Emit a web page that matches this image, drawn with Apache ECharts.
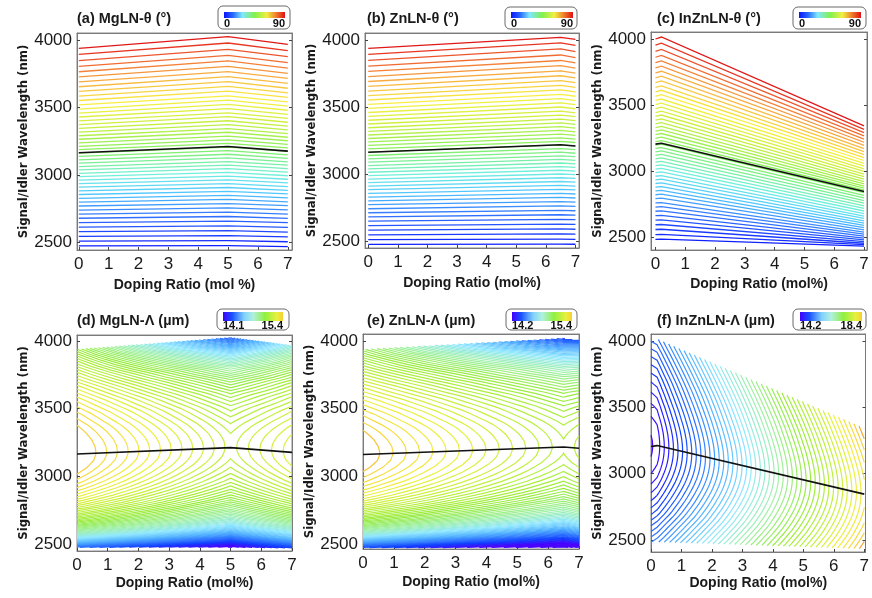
<!DOCTYPE html>
<html>
<head>
<meta charset="utf-8">
<script src="https://cdn.jsdelivr.net/npm/echarts@6/dist/echarts.min.js"></script>
<style>
html, body { margin: 0; padding: 0; background: #fff; }
#chart { width: 872px; height: 598px; }
</style>
</head>
<body>
<div id="chart"></div>
<script>
// doping ratios (mol%) where the curves bend
var mgKnots = [0, 5, 7];
var znKnots = [0, 6.5, 7];
var inKnots = [0, 0.2, 7];

// degenerate wavelength (black line), nm, at the knots
var mgDegen = [3165, 3212, 3177];
var znDegen = [3162, 3218, 3209];
var inDegen = [3205, 3212, 2846];

// signal/idler wavelength of every theta line, from 0 deg (bottom) to 90 deg (top)
var lnLam0 = [2475, 2510, 2546, 2581, 2615, 2648, 2680, 2711, 2741, 2771, 2800, 2828, 2856, 2883, 2910, 2936, 2962, 2988, 3013, 3038, 3063, 3088, 3113, 3138, 3163, 3188, 3213, 3239, 3265, 3291, 3318, 3345, 3373, 3401, 3430, 3459, 3489, 3520, 3552, 3585, 3619, 3654, 3690, 3727, 3765, 3805, 3848, 3893, 3938];
var mgLam5 = [2477, 2514, 2552, 2588, 2624, 2659, 2693, 2725, 2757, 2789, 2820, 2849, 2879, 2908, 2937, 2965, 2992, 3020, 3047, 3074, 3100, 3127, 3154, 3181, 3207, 3234, 3261, 3289, 3317, 3344, 3373, 3402, 3432, 3461, 3492, 3523, 3555, 3587, 3621, 3656, 3692, 3729, 3766, 3805, 3845, 3887, 3931, 3978, 4025];
var mgLam7 = [2470, 2506, 2542, 2578, 2613, 2647, 2679, 2711, 2742, 2773, 2802, 2831, 2860, 2887, 2915, 2942, 2969, 2995, 3021, 3047, 3073, 3098, 3124, 3150, 3176, 3201, 3227, 3254, 3280, 3307, 3335, 3363, 3391, 3420, 3450, 3480, 3510, 3542, 3575, 3608, 3643, 3679, 3716, 3753, 3792, 3833, 3877, 3922, 3968];
var znLam65 = [2477, 2514, 2553, 2590, 2626, 2662, 2696, 2729, 2762, 2794, 2825, 2855, 2886, 2915, 2944, 2972, 3000, 3028, 3055, 3082, 3109, 3136, 3163, 3190, 3217, 3244, 3270, 3298, 3326, 3353, 3382, 3410, 3440, 3469, 3500, 3530, 3562, 3594, 3627, 3661, 3697, 3733, 3770, 3808, 3847, 3888, 3933, 3979, 4020];
var znLam7 = [2476, 2513, 2551, 2588, 2624, 2659, 2693, 2726, 2758, 2790, 2821, 2851, 2881, 2910, 2939, 2967, 2995, 3022, 3049, 3076, 3102, 3129, 3155, 3182, 3208, 3235, 3261, 3288, 3315, 3342, 3370, 3398, 3428, 3456, 3487, 3517, 3548, 3580, 3612, 3646, 3681, 3717, 3753, 3790, 3829, 3869, 3913, 3959, 4005];
var inLam0 = [2485, 2521, 2559, 2595, 2630, 2664, 2697, 2729, 2760, 2792, 2822, 2851, 2880, 2907, 2935, 2962, 2989, 3016, 3042, 3068, 3094, 3120, 3146, 3172, 3197, 3223, 3249, 3276, 3303, 3330, 3358, 3386, 3415, 3444, 3474, 3504, 3535, 3567, 3600, 3634, 3670, 3706, 3743, 3781, 3821, 3862, 3907, 3953, 4000];
var inLam02 = [2486, 2522, 2561, 2597, 2632, 2666, 2700, 2732, 2763, 2796, 2826, 2855, 2884, 2912, 2940, 2967, 2995, 3022, 3048, 3074, 3101, 3127, 3153, 3179, 3205, 3231, 3257, 3285, 3312, 3339, 3368, 3396, 3425, 3454, 3485, 3515, 3546, 3579, 3612, 3646, 3683, 3719, 3756, 3794, 3835, 3876, 3921, 3968, 4015];
var inLam7 = [2434, 2444, 2455, 2467, 2480, 2494, 2509, 2524, 2540, 2556, 2573, 2590, 2607, 2625, 2643, 2661, 2680, 2699, 2718, 2738, 2758, 2778, 2798, 2818, 2838, 2856, 2872, 2888, 2905, 2922, 2940, 2959, 2978, 2998, 3018, 3039, 3060, 3081, 3103, 3125, 3148, 3171, 3195, 3219, 3243, 3267, 3292, 3317, 3343];

// poling period on the black line at the knots (um)
var mgPeak = [15.40, 15.143, 15.238];
var znPeak = [15.40, 15.128, 15.15];
var inPeak = [14.2, 14.25, 18.1];

// change of poling period (um) with the distance from the black line (nm)
var lamOffsets = [-780, -740, -700, -660, -620, -580, -540, -500, -450, -400, -350, -300, -250, -200, -150, -100, -50, 0, 50, 100, 150, 200, 300, 400, 500, 600, 700, 840];
var lnDrop0 = [-1.45, -1.24, -1.08, -0.9, -0.74, -0.6, -0.49, -0.4, -0.31, -0.235, -0.172, -0.124, -0.086, -0.055, -0.032, -0.0145, -0.0036, 0, -0.0018, -0.0072, -0.016, -0.028, -0.063, -0.11, -0.17, -0.245, -0.33, -0.48];
var mgDrop5 = [-1.3, -1.08, -0.9, -0.75, -0.62, -0.51, -0.42, -0.345, -0.27, -0.205, -0.152, -0.11, -0.076, -0.049, -0.028, -0.0125, -0.003, 0, -0.002, -0.008, -0.019, -0.034, -0.075, -0.135, -0.22, -0.34, -0.52, -0.88];
var mgDrop7 = [-1.4, -1.15, -0.95, -0.79, -0.65, -0.54, -0.44, -0.36, -0.28, -0.215, -0.16, -0.115, -0.08, -0.051, -0.029, -0.013, -0.0032, 0, -0.0018, -0.0075, -0.017, -0.03, -0.066, -0.115, -0.18, -0.27, -0.39, -0.62];
var znDropEnd = [-1.25, -1.04, -0.87, -0.73, -0.61, -0.5, -0.41, -0.335, -0.262, -0.2, -0.148, -0.106, -0.073, -0.047, -0.027, -0.012, -0.003, 0, -0.002, -0.008, -0.018, -0.032, -0.072, -0.13, -0.215, -0.33, -0.5, -0.86];
var inRise = [1.08, 0.99, 0.9, 0.82, 0.74, 0.66, 0.58, 0.5, 0.42, 0.34, 0.27, 0.205, 0.145, 0.095, 0.054, 0.024, 0.006, 0, 0.005, 0.02, 0.045, 0.078, 0.16, 0.26, 0.37, 0.5, 0.64, 0.85];

// contour levels: first level and spacing (um)
var mgLevelStart = 15.368, mgLevelStep = -0.018;
var znLevelStart = 15.377, znLevelStep = -0.018;
var inLevelStart = 14.215, inLevelStep = 0.085;

// tick labels
var dopingTicks = [0, 1, 2, 3, 4, 5, 6, 7];
var lamTicks = [2500, 3000, 3500, 4000];

var thetaStops = [[0, '#1020ff'], [0.12, '#2f6cff'], [0.25, '#50c8ff'], [0.35, '#70f0e0'], [0.5, '#80f060'], [0.65, '#c8f040'], [0.77, '#f8f040'], [0.87, '#f8b040'], [0.95, '#f06030'], [1, '#e01818']];
var thetaBar = [[0, '#0a14ff'], [0.15, '#2a6cff'], [0.3, '#80e8ff'], [0.5, '#80f050'], [0.7, '#f0f040'], [0.85, '#f08030'], [1, '#e01010']];
var lamStops = [[0, '#4a00ff'], [0.12, '#1040ff'], [0.3, '#50b0ff'], [0.42, '#90e8ff'], [0.55, '#a0f0a8'], [0.68, '#98ec40'], [0.8, '#c0f040'], [0.9, '#eef040'], [0.97, '#f8d840'], [1, '#f0a030']];
var lamBar = [[0, '#4000ff'], [0.15, '#1850ff'], [0.35, '#80d0ff'], [0.5, '#b0f0e0'], [0.7, '#90f040'], [0.9, '#e8f040'], [1, '#f8d030']];

var LABEL_FONT = 'Liberation Sans';

function hexRgb(h) {
    return [parseInt(h.substr(1, 2), 16), parseInt(h.substr(3, 2), 16), parseInt(h.substr(5, 2), 16)];
}

function colorAt(stops, f) {
    f = Math.max(0, Math.min(1, f));
    for (var k = 1; k < stops.length; k++) {
        if (f <= stops[k][0]) {
            var t = (f - stops[k - 1][0]) / (stops[k][0] - stops[k - 1][0]);
            var a = hexRgb(stops[k - 1][1]), b = hexRgb(stops[k][1]);
            return 'rgb(' + [0, 1, 2].map(function (c) { return Math.round(a[c] + t * (b[c] - a[c])); }).join(',') + ')';
        }
    }
    return stops[stops.length - 1][1];
}

function interp(xs, ys, x) {
    if (x <= xs[0]) return ys[0];
    for (var k = 1; k < xs.length; k++) {
        if (x <= xs[k]) {
            var t = (x - xs[k - 1]) / (xs[k] - xs[k - 1]);
            return ys[k - 1] + t * (ys[k] - ys[k - 1]);
        }
    }
    return ys[ys.length - 1];
}

function levelList(start, step, stop) {
    var out = [];
    for (var v = start; step > 0 ? v <= stop : v >= stop; v += step) out.push(v);
    return out;
}

// theta lines of the top row
function thetaLines(knots, rows) {
    var n = rows[0].length, data = [];
    for (var i = 0; i < n; i++) {
        data.push({
            coords: knots.map(function (x, j) { return [x, rows[j][i]]; }),
            lineStyle: {color: colorAt(thetaStops, i / (n - 1))}
        });
    }
    return data;
}

// iso-period lines of the bottom row, traced on the grid spanned by the theta lines
function contourLines(knots, rows, degen, peak, profiles, levels, lo, hi) {
    var nK = knots.length, nR = rows[0].length, V = [], out = [];
    for (var j = 0; j < nK; j++) {
        V.push(rows[j].map(function (lam) { return peak[j] + interp(lamOffsets, profiles[j], lam - degen[j]); }));
    }
    levels.forEach(function (lev) {
        var pts = {}, adj = {};
        function cross(key, ax, ay, va, bx, by, vb) {
            if ((va - lev) * (vb - lev) >= 0) return null;
            if (!pts[key]) {
                var t = (lev - va) / (vb - va);
                pts[key] = [ax + t * (bx - ax), ay + t * (by - ay)];
            }
            return key;
        }
        function link(a, b) {
            (adj[a] = adj[a] || []).push(b);
            (adj[b] = adj[b] || []).push(a);
        }
        for (var j = 0; j < nK - 1; j++) {
            var x0 = knots[j], x1 = knots[j + 1];
            for (var i = 0; i < nR - 1; i++) {
                var v00 = V[j][i], v10 = V[j + 1][i], v11 = V[j + 1][i + 1], v01 = V[j][i + 1];
                var eb = cross('h' + j + '_' + i, x0, rows[j][i], v00, x1, rows[j + 1][i], v10);
                var er = cross('v' + (j + 1) + '_' + i, x1, rows[j + 1][i], v10, x1, rows[j + 1][i + 1], v11);
                var et = cross('h' + j + '_' + (i + 1), x0, rows[j][i + 1], v01, x1, rows[j + 1][i + 1], v11);
                var el = cross('v' + j + '_' + i, x0, rows[j][i], v00, x0, rows[j][i + 1], v01);
                var e = [eb, er, et, el].filter(Boolean);
                if (e.length === 2) {
                    link(e[0], e[1]);
                } else if (e.length === 4) {
                    var c = (v00 + v10 + v11 + v01) / 4;
                    if ((c - lev) * (v00 - lev) > 0) { link(eb, er); link(et, el); }
                    else { link(eb, el); link(er, et); }
                }
            }
        }
        var used = {};
        function walk(start) {
            var line = [start], cur = start;
            used[start] = true;
            while (true) {
                var nb = (adj[cur] || []).filter(function (k) { return !used[k]; });
                if (!nb.length) break;
                cur = nb[0];
                used[cur] = true;
                line.push(cur);
            }
            return line;
        }
        var keys = Object.keys(adj);
        var starts = keys.filter(function (k) { return adj[k].length === 1; }).concat(keys);
        var color = colorAt(lamStops, (lev - lo) / (hi - lo));
        starts.forEach(function (k) {
            if (used[k]) return;
            var line = walk(k);
            if (line.length < 2) return;
            out.push({coords: line.map(function (q) { return pts[q]; }), lineStyle: {color: color}});
        });
    });
    return out;
}

var panels = [
    {grid: {left: 77, top: 33, width: 215, height: 217}, xr: [-0.06, 7.14], yr: [2445, 4052], xName: 'Doping Ratio (mol %)', xGap: 28,
     title: '(a) MgLN-θ (°)', tx: 77, ty: 19, bar: [218, 6, 72, 23, 224, 12, 61, 6, 24], barStops: thetaBar, barLo: '0', barHi: '90'},
    {grid: {left: 365, top: 33, width: 214, height: 215}, xr: [-0.11, 7.12], yr: [2448, 4052], xName: 'Doping Ratio (mol%)', xGap: 28,
     title: '(b) ZnLN-θ (°)', tx: 367, ty: 19, bar: [505, 7, 72, 22, 511, 12, 62, 6, 24], barStops: thetaBar, barLo: '0', barHi: '90'},
    {grid: {left: 651, top: 32, width: 216, height: 218}, xr: [-0.15, 7.1], yr: [2404, 4053], xName: 'Doping Ratio (mol%)', xGap: 27,
     title: '(c) InZnLN-θ (°)', tx: 657, ty: 19, bar: [793, 7, 73, 22, 799, 12, 62, 6, 24], barStops: thetaBar, barLo: '0', barHi: '90'},
    {grid: {left: 77, top: 335, width: 215, height: 216}, xr: [0, 7], yr: [2448, 4044], xName: 'Doping Ratio (mol%)', xGap: 25,
     title: '(d) MgLN-Λ (µm)', tx: 77, ty: 321, bar: [217, 309, 72, 21, 223, 312, 60, 9, 326], barStops: lamBar, barLo: '14.1', barHi: '15.4'},
    {grid: {left: 363, top: 334, width: 216, height: 215}, xr: [0, 7], yr: [2465, 4052], xName: 'Doping Ratio (mol%)', xGap: 26,
     title: '(e) ZnLN-Λ (µm)', tx: 367, ty: 321, bar: [506, 309, 71, 21, 512, 312, 60, 9, 326], barStops: lamBar, barLo: '14.2', barHi: '15.4'},
    {grid: {left: 651, top: 334, width: 217, height: 218}, xr: [0, 7.04], yr: [2410, 4053], xName: 'Doping Ratio (mol%)', xGap: 24,
     title: '(f) InZnLN-Λ (µm)', tx: 657, ty: 321, bar: [793, 309, 73, 21, 800, 312, 62, 9, 326], barStops: lamBar, barLo: '14.2', barHi: '18.4'}
];

var panelData = [
    thetaLines(mgKnots, [lnLam0, mgLam5, mgLam7]),
    thetaLines(znKnots, [lnLam0, znLam65, znLam7]),
    thetaLines(inKnots, [inLam0, inLam02, inLam7]),
    contourLines(mgKnots, [lnLam0, mgLam5, mgLam7], mgDegen, mgPeak, [lnDrop0, mgDrop5, mgDrop7],
        levelList(mgLevelStart, mgLevelStep, 13.9), 14.1, 15.4),
    contourLines(znKnots, [lnLam0, znLam65, znLam7], znDegen, znPeak, [lnDrop0, znDropEnd, znDropEnd],
        levelList(znLevelStart, znLevelStep, 13.9), 14.2, 15.4),
    contourLines(inKnots, [inLam0, inLam02, inLam7], inDegen, inPeak, [inRise, inRise, inRise],
        levelList(inLevelStart, inLevelStep, 19.4), 14.2, 18.4)
];
var degenLines = [
    [mgKnots, mgDegen], [znKnots, znDegen], [inKnots, inDegen],
    [mgKnots, mgDegen], [znKnots, znDegen], [inKnots, inDegen]
];

var myChart = echarts.init(document.getElementById('chart'));
var grids = [], xAxes = [], yAxes = [], series = [], graphics = [];

panels.forEach(function (p, n) {
    grids.push(Object.assign({show: true, borderColor: '#8a8a8a', borderWidth: 1, containLabel: false}, p.grid));
    xAxes.push({
        gridIndex: n, type: 'value', min: p.xr[0], max: p.xr[1],
        axisLine: {show: true, onZero: false, lineStyle: {color: '#7a7a7a'}},
        axisTick: {show: true, inside: true, length: 3, customValues: dopingTicks, lineStyle: {color: '#444'}},
        axisLabel: {customValues: dopingTicks, fontSize: 17, color: '#1a1a1a', margin: 6, fontFamily: LABEL_FONT},
        splitLine: {show: false},
        name: p.xName, nameLocation: 'middle', nameGap: p.xGap,
        nameTextStyle: {fontSize: 14, fontWeight: 'bold', color: '#1a1a1a', fontFamily: LABEL_FONT}
    });
    xAxes.push({
        gridIndex: n, type: 'value', min: p.xr[0], max: p.xr[1], position: 'top',
        axisLine: {show: true, onZero: false, lineStyle: {color: '#7a7a7a'}},
        axisTick: {show: false}, axisLabel: {show: false}, splitLine: {show: false}
    });
    yAxes.push({
        gridIndex: n, type: 'value', min: p.yr[0], max: p.yr[1],
        axisLine: {show: true, onZero: false, lineStyle: {color: '#7a7a7a'}},
        axisTick: {show: true, inside: true, length: 3, customValues: lamTicks, lineStyle: {color: '#444'}},
        axisLabel: {customValues: lamTicks, fontSize: 17, color: '#1a1a1a', margin: 5, fontFamily: LABEL_FONT,
            formatter: function (v) { return String(v); }},
        splitLine: {show: false},
        name: 'Signal/Idler Wavelength (nm)', nameLocation: 'middle', nameGap: 47,
        nameTextStyle: {fontSize: 13, fontWeight: 'bold', color: '#1a1a1a',
            fontFamily: '"Liberation Sans Narrow", "DejaVu Sans Condensed", "Liberation Sans", sans-serif'}
    });
    yAxes.push({
        gridIndex: n, type: 'value', min: p.yr[0], max: p.yr[1], position: 'right',
        axisLine: {show: true, onZero: false, lineStyle: {color: '#7a7a7a'}},
        axisTick: {show: true, inside: true, length: 3, customValues: lamTicks, lineStyle: {color: '#444'}},
        axisLabel: {show: false}, splitLine: {show: false}
    });

    series.push({
        type: 'lines', coordinateSystem: 'cartesian2d', xAxisIndex: 2 * n, yAxisIndex: 2 * n,
        polyline: true, silent: true, animation: false, z: 2,
        lineStyle: {width: n < 3 ? 1.3 : 1.2, opacity: 1},
        data: panelData[n]
    });
    var dl = degenLines[n];
    series.push({
        type: 'line', xAxisIndex: 2 * n, yAxisIndex: 2 * n, showSymbol: false, silent: true, animation: false, z: 5,
        lineStyle: {color: '#111', width: 1.6},
        data: dl[0].map(function (x, j) { return [x, dl[1][j]]; })
    });

    graphics.push({
        type: 'text', x: p.tx, y: p.ty, silent: true,
        style: {text: p.title, fill: '#1a1a1a', font: 'bold 14.5px "' + LABEL_FONT + '"',
            verticalAlign: 'middle', textVerticalAlign: 'middle'}
    });
    var b = p.bar;
    graphics.push({
        type: 'rect', silent: true, shape: {x: b[0], y: b[1], width: b[2], height: b[3], r: 5},
        style: {fill: '#fff', stroke: '#6a6a6a', lineWidth: 1}
    });
    graphics.push({
        type: 'rect', silent: true, shape: {x: b[4], y: b[5], width: b[6], height: b[7]},
        style: {fill: new echarts.graphic.LinearGradient(0, 0, 1, 0, p.barStops.map(function (s) { return {offset: s[0], color: s[1]}; }))}
    });
    graphics.push({
        type: 'text', x: b[4], y: b[8], silent: true,
        style: {text: p.barLo, fill: '#111', font: 'bold 11px "' + LABEL_FONT + '"',
            align: 'left', textAlign: 'left', verticalAlign: 'middle', textVerticalAlign: 'middle'}
    });
    graphics.push({
        type: 'text', x: b[4] + b[6], y: b[8], silent: true,
        style: {text: p.barHi, fill: '#111', font: 'bold 11px "' + LABEL_FONT + '"',
            align: 'right', textAlign: 'right', verticalAlign: 'middle', textVerticalAlign: 'middle'}
    });
});

option = {
    backgroundColor: '#fff',
    animation: false,
    grid: grids,
    xAxis: xAxes,
    yAxis: yAxes,
    series: series,
    graphic: graphics
};
myChart.setOption(option);
</script>
</body>
</html>
